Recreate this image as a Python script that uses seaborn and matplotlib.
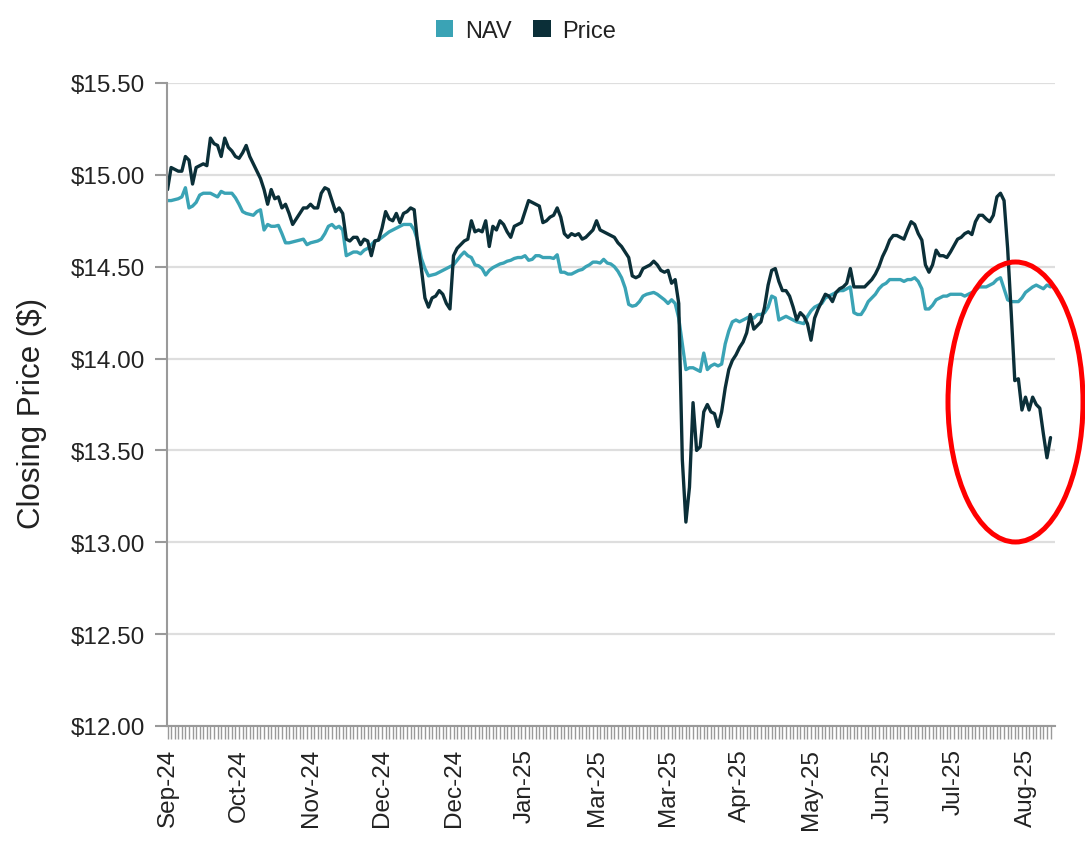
import matplotlib
matplotlib.use("Agg")
import matplotlib.pyplot as plt
from matplotlib.patches import Ellipse, Patch
import numpy as np
import pandas as pd
import seaborn as sns

# ---------------- data ----------------
price = [
    14.92, 15.04, 15.03, 15.02, 15.02, 15.10, 15.08, 14.95, 15.04, 15.05,
    15.06, 15.05, 15.20, 15.17, 15.16, 15.10, 15.20, 15.15, 15.13, 15.10,
    15.09, 15.12, 15.16, 15.10, 15.06, 15.02, 14.98, 14.92, 14.84, 14.92,
    14.87, 14.88, 14.82, 14.84, 14.79, 14.73, 14.76, 14.79, 14.82, 14.82,
    14.84, 14.82, 14.82, 14.90, 14.93, 14.92, 14.86, 14.80, 14.82, 14.79,
    14.65, 14.64, 14.66, 14.66, 14.62, 14.65, 14.64, 14.56, 14.64, 14.645,
    14.71, 14.80, 14.76, 14.75, 14.79, 14.74, 14.79, 14.80, 14.82, 14.81,
    14.62, 14.49, 14.33, 14.28, 14.33, 14.34, 14.37, 14.35, 14.30, 14.27,
    14.56, 14.60, 14.62, 14.64, 14.65, 14.75, 14.69, 14.70, 14.69, 14.75,
    14.61, 14.72, 14.70, 14.75, 14.73, 14.69, 14.66, 14.72, 14.73, 14.74,
    14.80, 14.86, 14.85, 14.84, 14.83, 14.74, 14.75, 14.77, 14.78, 14.82,
    14.77, 14.68, 14.66, 14.68, 14.67, 14.68, 14.65, 14.66, 14.68, 14.70,
    14.75, 14.70, 14.69, 14.68, 14.67, 14.66, 14.63, 14.61, 14.58, 14.55,
    14.45, 14.44, 14.45, 14.49, 14.50, 14.51, 14.53, 14.51, 14.48, 14.47,
    14.48, 14.41, 14.43, 14.30, 13.45, 13.11, 13.30, 13.76, 13.50, 13.52,
    13.71, 13.75, 13.71, 13.70, 13.63, 13.71, 13.84, 13.94, 13.99, 14.02,
    14.06, 14.09, 14.14, 14.24, 14.16, 14.18, 14.20, 14.28, 14.40, 14.48,
    14.49, 14.42, 14.37, 14.37, 14.34, 14.28, 14.21, 14.25, 14.23, 14.19,
    14.10, 14.22, 14.27, 14.31, 14.35, 14.34, 14.31, 14.36, 14.38, 14.39,
    14.41, 14.49, 14.39, 14.39, 14.39, 14.39, 14.41, 14.43, 14.46, 14.50,
    14.555, 14.595, 14.645, 14.67, 14.67, 14.66, 14.65, 14.70, 14.745, 14.73,
    14.68, 14.645, 14.51, 14.47, 14.51, 14.59, 14.56, 14.56, 14.55, 14.58,
    14.615, 14.65, 14.66, 14.68, 14.69, 14.675, 14.745, 14.78, 14.78, 14.76,
    14.745, 14.78, 14.88, 14.90, 14.86, 14.60, 14.25, 13.88, 13.89, 13.72,
    13.79, 13.72, 13.79, 13.75, 13.73, 13.59, 13.46, 13.57,
]

nav = [
    14.86, 14.86, 14.865, 14.87, 14.88, 14.93, 14.82, 14.83, 14.85, 14.89,
    14.90, 14.90, 14.90, 14.89, 14.88, 14.91, 14.90, 14.90, 14.90, 14.875,
    14.84, 14.80, 14.79, 14.785, 14.78, 14.80, 14.81, 14.70, 14.73, 14.72,
    14.72, 14.725, 14.68, 14.63, 14.63, 14.635, 14.64, 14.645, 14.65, 14.62,
    14.63, 14.635, 14.64, 14.65, 14.68, 14.72, 14.73, 14.71, 14.72, 14.70,
    14.56, 14.57, 14.58, 14.58, 14.57, 14.59, 14.60, 14.62, 14.64, 14.645,
    14.66, 14.675, 14.69, 14.70, 14.71, 14.72, 14.73, 14.73, 14.73, 14.70,
    14.64, 14.545, 14.49, 14.45, 14.455, 14.46, 14.47, 14.48, 14.49, 14.50,
    14.51, 14.535, 14.56, 14.58, 14.56, 14.55, 14.51, 14.505, 14.49, 14.455,
    14.48, 14.495, 14.505, 14.515, 14.52, 14.53, 14.535, 14.545, 14.55, 14.55,
    14.56, 14.535, 14.54, 14.56, 14.56, 14.55, 14.55, 14.55, 14.545, 14.565,
    14.47, 14.47, 14.46, 14.46, 14.47, 14.48, 14.485, 14.50, 14.51, 14.525,
    14.525, 14.52, 14.54, 14.52, 14.515, 14.50, 14.475, 14.44, 14.385, 14.295,
    14.285, 14.29, 14.31, 14.34, 14.35, 14.355, 14.36, 14.35, 14.335, 14.32,
    14.30, 14.32, 14.30, 14.22, 14.08, 13.94, 13.95, 13.95, 13.94, 13.93,
    14.03, 13.94, 13.96, 13.97, 13.96, 13.97, 14.08, 14.15, 14.20, 14.21,
    14.20, 14.21, 14.22, 14.23, 14.22, 14.24, 14.24, 14.25, 14.28, 14.34,
    14.33, 14.21, 14.22, 14.23, 14.22, 14.21, 14.20, 14.195, 14.19, 14.23,
    14.26, 14.28, 14.29, 14.30, 14.33, 14.34, 14.35, 14.36, 14.37, 14.37,
    14.38, 14.39, 14.25, 14.24, 14.24, 14.27, 14.31, 14.33, 14.35, 14.38,
    14.40, 14.41, 14.43, 14.43, 14.43, 14.43, 14.42, 14.43, 14.43, 14.44,
    14.42, 14.38, 14.27, 14.27, 14.29, 14.32, 14.33, 14.34, 14.34, 14.35,
    14.35, 14.35, 14.35, 14.34, 14.35, 14.36, 14.37, 14.39, 14.39, 14.39,
    14.40, 14.41, 14.43, 14.44, 14.38, 14.32, 14.31, 14.31, 14.31, 14.33,
    14.36, 14.375, 14.39, 14.40, 14.39, 14.38, 14.40, 14.39,
]

month_labels = ["Sep-24", "Oct-24", "Nov-24", "Dec-24", "Dec-24", "Jan-25",
                "Mar-25", "Mar-25", "Apr-25", "May-25", "Jun-25", "Jul-25",
                "Aug-25"]
label_step = 20
y_ticks = [12.00, 12.50, 13.00, 13.50, 14.00, 14.50, 15.00, 15.50]
series_names = ["NAV", "Price"]

# ---------------- styling ----------------
NAV_COLOR = "#3AA3B5"
PRICE_COLOR = "#0B2F38"
TEXT_COLOR = "#222222"
AXIS_COLOR = "#9a9a9a"

sns.set_theme(style="white")
plt.rcParams["font.family"] = ["Liberation Sans", "DejaVu Sans"]

n = len(price)
df = pd.DataFrame({
    "day": list(range(n)) * 2,
    "value": nav + price,
    "series": [series_names[0]] * n + [series_names[1]] * n,
})

W, H = 1085, 845
fig = plt.figure(figsize=(W / 100, H / 100), dpi=100)
left, right, top, bottom = 167, 1055, 84, 727
ax = fig.add_axes([left / W, 1 - bottom / H, (right - left) / W, (bottom - top) / H])

sns.lineplot(data=df, x="day", y="value", hue="series", hue_order=series_names,
             palette={"NAV": NAV_COLOR, "Price": PRICE_COLOR},
             linewidth=2.4, ax=ax, legend=False)

ax.set_xlim(-0.15, 248.25)
ax.set_ylim(12.0, 15.5)

# x ticks: one per trading day, label every label_step
ax.set_xticks(range(n))
xt_labels = []
for i in range(n):
    if i % label_step == 0 and i // label_step < len(month_labels):
        xt_labels.append(month_labels[i // label_step])
    else:
        xt_labels.append("")
ax.set_xticklabels(xt_labels, rotation=90)

ax.set_yticks(y_ticks)
ax.set_yticklabels(["\\$%.2f" % v for v in y_ticks])

ax.tick_params(axis="x", length=9, width=1.0, color=AXIS_COLOR, direction="out",
               pad=7, labelsize=17.5, labelcolor=TEXT_COLOR, bottom=True)
ax.tick_params(axis="y", length=9, width=1.5, color=AXIS_COLOR, direction="out",
               pad=7, labelsize=17.5, labelcolor=TEXT_COLOR, left=True)

ax.yaxis.grid(True, color="#dedede", linewidth=1.6)
ax.xaxis.grid(False)
ax.set_axisbelow(True)

for s in ["top", "right"]:
    ax.spines[s].set_visible(False)
for s in ["left", "bottom"]:
    ax.spines[s].set_color(AXIS_COLOR)
    ax.spines[s].set_linewidth(1.5)

ax.set_xlabel("")
ax.set_ylabel("Closing Price (\\$)", fontsize=22.5, color=TEXT_COLOR)
ax.yaxis.set_label_coords(-0.135, 0.487)

# legend
handles = [Patch(facecolor=NAV_COLOR, edgecolor="none"),
           Patch(facecolor=PRICE_COLOR, edgecolor="none")]
fig.legend(handles, series_names, loc="center", bbox_to_anchor=(526 / W, 1 - 32 / H),
           ncol=2, frameon=False, fontsize=17, handlelength=0.75, handleheight=0.75,
           handletextpad=0.5, columnspacing=0.9, labelcolor=TEXT_COLOR)

# red highlight ellipse
ell = Ellipse((1015.5 / W, 1 - 403 / H), 135 / W, 280 / H, transform=fig.transFigure,
              fill=False, edgecolor="#ff0000", linewidth=3.6, clip_on=False)
fig.patches.append(ell)

fig.savefig("out.png", dpi=100, facecolor="white")
